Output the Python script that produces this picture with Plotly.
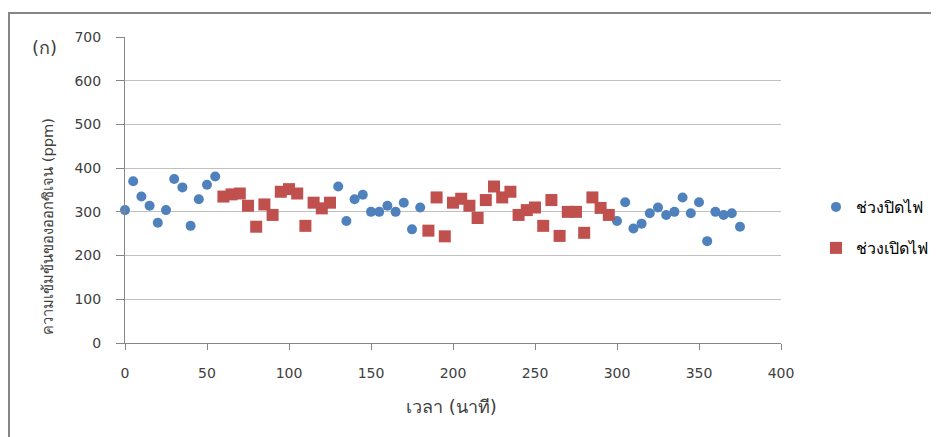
import plotly.graph_objects as go

# Time (minutes) and oxygen concentration (ppm)
off_time_1 = [0, 5, 10, 15, 20, 25, 30, 35, 40, 45, 50, 55]
off_val_1 = [304, 370, 335, 314, 275, 304, 375, 356, 268, 329, 362, 381]
off_time_2 = [130, 135, 140, 145, 150, 155, 160, 165, 170, 175, 180]
off_val_2 = [358, 279, 329, 339, 300, 300, 314, 300, 321, 260, 310]
off_time_3 = [300, 305, 310, 315, 320, 325, 330, 335, 340, 345, 350, 355, 360, 365, 370, 375]
off_val_3 = [279, 322, 262, 273, 297, 310, 293, 300, 333, 297, 322, 233, 300, 293, 297, 266]

on_time_1 = [60, 65, 70, 75, 80, 85, 90, 95, 100, 105, 110, 115, 120, 125]
on_val_1 = [335, 340, 342, 314, 266, 317, 293, 346, 352, 342, 268, 321, 308, 321]
on_time_2 = [185, 190, 195, 200, 205, 210, 215, 220, 225, 230, 235, 240, 245, 250,
             255, 260, 265, 270, 275, 280, 285, 290, 295]
on_val_2 = [257, 333, 244, 321, 330, 314, 286, 327, 358, 333, 346, 293, 304, 310,
            268, 327, 245, 300, 300, 252, 333, 309, 293]

off_x = off_time_1 + off_time_2 + off_time_3
off_y = off_val_1 + off_val_2 + off_val_3
on_x = on_time_1 + on_time_2
on_y = on_val_1 + on_val_2

series_names = ["ช่วงปิดไฟ", "ช่วงเปิดไฟ"]
x_ticks = [0, 50, 100, 150, 200, 250, 300, 350, 400]
y_ticks = [0, 100, 200, 300, 400, 500, 600, 700]

FONT = "DejaVu Sans, Liberation Sans, sans-serif"
TXT = "#404040"

# page coords -> paper coords (plot area on page: x 125..781, y 37..343)
def px(X):
    return (X - 125) / 656

def py(Y):
    return (343 - Y) / 306

fig = go.Figure()
fig.add_trace(go.Scatter(
    x=off_x, y=off_y, mode="markers", name=series_names[0],
    marker=dict(symbol="circle", size=10, color="#4F81BD"),
    cliponaxis=False, legend="legend", showlegend=True))
fig.add_trace(go.Scatter(
    x=on_x, y=on_y, mode="markers", name=series_names[1],
    marker=dict(symbol="square", size=12, color="#C0504D"),
    cliponaxis=False, legend="legend2", showlegend=True))

fig.update_layout(
    width=931, height=429,
    margin=dict(l=117, r=158, t=29, b=94, autoexpand=False),
    paper_bgcolor="white", plot_bgcolor="white",
    showlegend=True,
    font=dict(family=FONT, size=14, color=TXT),
    legend=dict(x=px(816), y=py(207), xanchor="left", yanchor="middle",
                font=dict(size=16, color="#000000"), bgcolor="rgba(0,0,0,0)"),
    legend2=dict(x=px(816), y=py(248), xanchor="left", yanchor="middle",
                 font=dict(size=16, color="#000000"), bgcolor="rgba(0,0,0,0)"),
    xaxis=dict(range=[0, 400], tickvals=x_ticks, showgrid=False,
               showline=True, linecolor="#868686", linewidth=1,
               ticks="outside", ticklen=6, tickcolor="#868686",
               ticklabelstandoff=11,
               zeroline=False, tickfont=dict(size=14, color=TXT),
               fixedrange=True),
    yaxis=dict(range=[0, 700], tickvals=y_ticks, showgrid=True,
               gridcolor="#C0C0C0", gridwidth=1,
               showline=True, linecolor="#868686", linewidth=1,
               ticks="outside", ticklen=8, tickcolor="#868686",
               ticklabelstandoff=12,
               zeroline=False, tickfont=dict(size=14, color=TXT),
               fixedrange=True),
    shapes=[
        dict(type="line", xref="paper", yref="paper",
             x0=px(8), x1=px(945), y0=py(13), y1=py(13),
             line=dict(color="#868686", width=2)),
        dict(type="line", xref="paper", yref="paper",
             x0=px(9), x1=px(9), y0=py(440), y1=py(13),
             line=dict(color="#868686", width=2)),
    ],
    annotations=[
        dict(text="(ก)", xref="paper", yref="paper",
             x=px(44), y=py(47),
             xanchor="center", yanchor="middle", showarrow=False,
             font=dict(size=18, color=TXT)),
        dict(text="ความเข้มข้นของออกซิเจน (ppm)", xref="paper", yref="paper",
             x=px(47), y=py(227), textangle=-90,
             xanchor="center", yanchor="middle", showarrow=False,
             font=dict(size=14.7, color=TXT)),
        dict(text="เวลา (นาที)", xref="paper", yref="paper",
             x=px(451), y=py(406),
             xanchor="center", yanchor="middle", showarrow=False,
             font=dict(size=18, color=TXT)),
    ],
)

fig.write_html("out.html")
